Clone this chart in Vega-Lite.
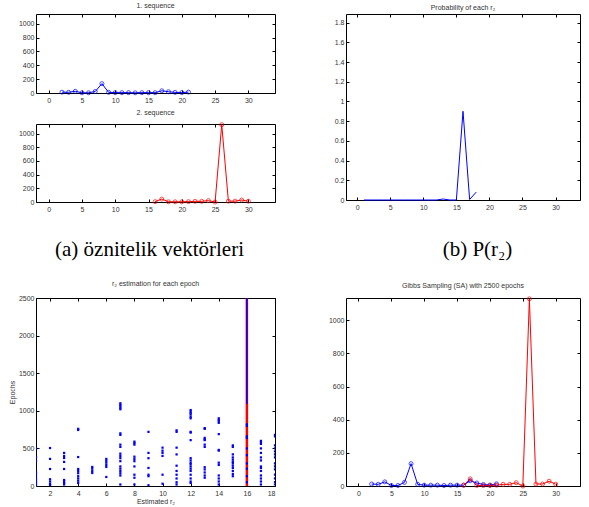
{
  "$schema": "https://vega.github.io/schema/vega-lite/v6.json",
  "background": "white",
  "padding": {"left": 7, "top": 1, "right": 0, "bottom": 0},
  "datasets": {
    "seq": [
      {"s": 1, "x": 2, "y": 12}, {"s": 1, "x": 3, "y": 10}, {"s": 1, "x": 4, "y": 25}, {"s": 1, "x": 5, "y": 3},
      {"s": 1, "x": 6, "y": 3}, {"s": 1, "x": 7, "y": 22}, {"s": 1, "x": 8, "y": 135}, {"s": 1, "x": 9, "y": 10},
      {"s": 1, "x": 10, "y": 5}, {"s": 1, "x": 11, "y": 5}, {"s": 1, "x": 12, "y": 5}, {"s": 1, "x": 13, "y": 3},
      {"s": 1, "x": 14, "y": 5}, {"s": 1, "x": 15, "y": 5}, {"s": 1, "x": 16, "y": 5}, {"s": 1, "x": 17, "y": 32},
      {"s": 1, "x": 18, "y": 18}, {"s": 1, "x": 19, "y": 9}, {"s": 1, "x": 20, "y": 6}, {"s": 1, "x": 21, "y": 13},
      {"s": 2, "x": 16, "y": 5}, {"s": 2, "x": 17, "y": 43}, {"s": 2, "x": 18, "y": 3}, {"s": 2, "x": 19, "y": 3},
      {"s": 2, "x": 20, "y": 3}, {"s": 2, "x": 21, "y": 5}, {"s": 2, "x": 22, "y": 10}, {"s": 2, "x": 23, "y": 10},
      {"s": 2, "x": 24, "y": 20}, {"s": 2, "x": 25, "y": 0}, {"s": 2, "x": 26, "y": 1130}, {"s": 2, "x": 27, "y": 12},
      {"s": 2, "x": 28, "y": 12}, {"s": 2, "x": 29, "y": 29}, {"s": 2, "x": 30, "y": 11}
    ],
    "prob": [
      {"x": 1, "p": 0}, {"x": 2, "p": 0}, {"x": 3, "p": 0}, {"x": 4, "p": 0}, {"x": 5, "p": 0}, {"x": 6, "p": 0},
      {"x": 7, "p": 0}, {"x": 8, "p": 0}, {"x": 9, "p": 0}, {"x": 10, "p": 0}, {"x": 11, "p": 0}, {"x": 12, "p": 0},
      {"x": 13, "p": 0.01}, {"x": 14, "p": 0}, {"x": 15, "p": 0}, {"x": 16, "p": 0.9}, {"x": 17, "p": 0.005}, {"x": 18, "p": 0.08}
    ],
    "rules": [
      {"r": 16, "lo": 0, "hi": 2500, "c": "red"},
      {"r": 16, "lo": 1090, "hi": 2500, "c": "blue"}
    ],
    "est": [
      {"r": 1, "e": 10}, {"r": 1, "e": 30}, {"r": 1, "e": 50}, {"r": 1, "e": 80}, {"r": 1, "e": 110}, {"r": 1, "e": 150}, {"r": 1, "e": 180}, {"r": 1, "e": 330}, {"r": 1, "e": 380}, {"r": 1, "e": 500},
      {"r": 2, "e": 10}, {"r": 2, "e": 30}, {"r": 2, "e": 60}, {"r": 2, "e": 90}, {"r": 2, "e": 226}, {"r": 2, "e": 360}, {"r": 2, "e": 505},
      {"r": 3, "e": 20}, {"r": 3, "e": 40}, {"r": 3, "e": 60}, {"r": 3, "e": 80}, {"r": 3, "e": 226}, {"r": 3, "e": 320}, {"r": 3, "e": 372}, {"r": 3, "e": 400}, {"r": 3, "e": 440},
      {"r": 4, "e": 40}, {"r": 4, "e": 70}, {"r": 4, "e": 100}, {"r": 4, "e": 130}, {"r": 4, "e": 170}, {"r": 4, "e": 200}, {"r": 4, "e": 226}, {"r": 4, "e": 385}, {"r": 4, "e": 745}, {"r": 4, "e": 760},
      {"r": 5, "e": 173}, {"r": 5, "e": 200}, {"r": 5, "e": 230}, {"r": 5, "e": 253},
      {"r": 6, "e": 120}, {"r": 6, "e": 253}, {"r": 6, "e": 280}, {"r": 6, "e": 310}, {"r": 6, "e": 335}, {"r": 6, "e": 360},
      {"r": 7, "e": 20}, {"r": 7, "e": 140}, {"r": 7, "e": 170}, {"r": 7, "e": 200}, {"r": 7, "e": 230}, {"r": 7, "e": 260}, {"r": 7, "e": 330}, {"r": 7, "e": 370}, {"r": 7, "e": 400}, {"r": 7, "e": 430}, {"r": 7, "e": 520}, {"r": 7, "e": 550}, {"r": 7, "e": 680}, {"r": 7, "e": 700}, {"r": 7, "e": 1020}, {"r": 7, "e": 1040}, {"r": 7, "e": 1060}, {"r": 7, "e": 1080}, {"r": 7, "e": 1100},
      {"r": 8, "e": 20}, {"r": 8, "e": 110}, {"r": 8, "e": 150}, {"r": 8, "e": 260}, {"r": 8, "e": 330}, {"r": 8, "e": 360}, {"r": 8, "e": 390}, {"r": 8, "e": 550}, {"r": 8, "e": 570}, {"r": 8, "e": 590},
      {"r": 9, "e": 10}, {"r": 9, "e": 130}, {"r": 9, "e": 150}, {"r": 9, "e": 240}, {"r": 9, "e": 370}, {"r": 9, "e": 440}, {"r": 9, "e": 720},
      {"r": 10, "e": 30}, {"r": 10, "e": 150}, {"r": 10, "e": 400}, {"r": 10, "e": 440}, {"r": 10, "e": 470}, {"r": 10, "e": 510},
      {"r": 11, "e": 20}, {"r": 11, "e": 50}, {"r": 11, "e": 100}, {"r": 11, "e": 150}, {"r": 11, "e": 200}, {"r": 11, "e": 270}, {"r": 11, "e": 420}, {"r": 11, "e": 510}, {"r": 11, "e": 720}, {"r": 11, "e": 740},
      {"r": 12, "e": 40}, {"r": 12, "e": 60}, {"r": 12, "e": 100}, {"r": 12, "e": 150}, {"r": 12, "e": 200}, {"r": 12, "e": 230}, {"r": 12, "e": 260}, {"r": 12, "e": 290}, {"r": 12, "e": 310}, {"r": 12, "e": 340}, {"r": 12, "e": 370}, {"r": 12, "e": 610}, {"r": 12, "e": 710}, {"r": 12, "e": 720}, {"r": 12, "e": 900}, {"r": 12, "e": 920}, {"r": 12, "e": 950}, {"r": 12, "e": 970}, {"r": 12, "e": 990}, {"r": 12, "e": 1010},
      {"r": 13, "e": 110}, {"r": 13, "e": 140}, {"r": 13, "e": 180}, {"r": 13, "e": 220}, {"r": 13, "e": 250}, {"r": 13, "e": 520}, {"r": 13, "e": 550}, {"r": 13, "e": 610}, {"r": 13, "e": 620}, {"r": 13, "e": 640}, {"r": 13, "e": 760}, {"r": 13, "e": 770},
      {"r": 14, "e": 20}, {"r": 14, "e": 60}, {"r": 14, "e": 100}, {"r": 14, "e": 140}, {"r": 14, "e": 280}, {"r": 14, "e": 310}, {"r": 14, "e": 470}, {"r": 14, "e": 480}, {"r": 14, "e": 690}, {"r": 14, "e": 840}, {"r": 14, "e": 860}, {"r": 14, "e": 880}, {"r": 14, "e": 900},
      {"r": 15, "e": 130}, {"r": 15, "e": 160}, {"r": 15, "e": 200}, {"r": 15, "e": 240}, {"r": 15, "e": 270}, {"r": 15, "e": 300}, {"r": 15, "e": 320}, {"r": 15, "e": 350}, {"r": 15, "e": 380}, {"r": 15, "e": 420}, {"r": 15, "e": 520}, {"r": 15, "e": 540},
      {"r": 16, "e": 50}, {"r": 16, "e": 130}, {"r": 16, "e": 230}, {"r": 16, "e": 300}, {"r": 16, "e": 410}, {"r": 16, "e": 500}, {"r": 16, "e": 640}, {"r": 16, "e": 660}, {"r": 16, "e": 800}, {"r": 16, "e": 820},
      {"r": 17, "e": 20}, {"r": 17, "e": 60}, {"r": 17, "e": 100}, {"r": 17, "e": 140}, {"r": 17, "e": 200}, {"r": 17, "e": 240}, {"r": 17, "e": 260}, {"r": 17, "e": 340}, {"r": 17, "e": 380}, {"r": 17, "e": 440}, {"r": 17, "e": 500}, {"r": 17, "e": 560}, {"r": 17, "e": 580}, {"r": 17, "e": 600},
      {"r": 18, "e": 20}, {"r": 18, "e": 50}, {"r": 18, "e": 100}, {"r": 18, "e": 150}, {"r": 18, "e": 220}, {"r": 18, "e": 260}, {"r": 18, "e": 300}, {"r": 18, "e": 380}, {"r": 18, "e": 420}, {"r": 18, "e": 460}, {"r": 18, "e": 500}, {"r": 18, "e": 540}, {"r": 18, "e": 660}, {"r": 18, "e": 680}
    ]
  },
  "spacing": 51,
  "hconcat": [
    {
      "bounds": "flush",
      "spacing": 31,
      "vconcat": [
        {
          "width": 239, "height": 79,
          "title": {"text": "1. sequence", "offset": 5},
          "data": {"name": "seq"},
          "transform": [{"filter": "datum.s == 1"}],
          "layer": [
            {"mark": {"type": "line", "color": "#0000ff", "strokeWidth": 1},
             "encoding": {
               "x": {"field": "x", "type": "quantitative", "scale": {"domain": [-1.9, 34], "nice": false, "zero": false}, "axis": {"values": [0, 5, 10, 15, 20, 25, 30], "title": null}},
               "y": {"field": "y", "type": "quantitative", "scale": {"domain": [0, 1140], "nice": false}, "axis": {"values": [0, 200, 400, 600, 800, 1000], "format": "d", "title": null}}}},
            {"mark": {"type": "point", "color": "#0000ff", "size": 16, "strokeWidth": 1},
             "encoding": {
               "x": {"field": "x", "type": "quantitative", "scale": {"domain": [-1.9, 34], "nice": false, "zero": false}, "axis": null},
               "y": {"field": "y", "type": "quantitative", "scale": {"domain": [0, 1140], "nice": false}, "axis": null}}},
            {"mark": {"type": "point", "opacity": 0},
             "encoding": {
               "x": {"field": "x", "type": "quantitative", "scale": {"domain": [-1.9, 34], "nice": false, "zero": false}, "axis": {"orient": "top", "labels": false, "values": [0, 5, 10, 15, 20, 25, 30], "title": null}},
               "y": {"field": "y", "type": "quantitative", "scale": {"domain": [0, 1140], "nice": false}, "axis": {"orient": "right", "labels": false, "values": [0, 200, 400, 600, 800, 1000], "title": null}}}}
          ],
          "resolve": {"axis": {"x": "independent", "y": "independent"}}
        },
        {
          "width": 239, "height": 78,
          "title": {"text": "2. sequence", "offset": 5},
          "data": {"name": "seq"},
          "transform": [{"filter": "datum.s == 2"}],
          "layer": [
            {"mark": {"type": "line", "color": "#ff0000", "strokeWidth": 1},
             "encoding": {
               "x": {"field": "x", "type": "quantitative", "scale": {"domain": [-1.9, 34], "nice": false, "zero": false}, "axis": {"values": [0, 5, 10, 15, 20, 25, 30], "title": "(a) öznitelik vektörleri", "titleFont": "Liberation Serif", "titleFontSize": 21, "titleColor": "black", "titleX": 113, "titleY": 53, "titleAlign": "center", "titleBaseline": "alphabetic"}},
               "y": {"field": "y", "type": "quantitative", "scale": {"domain": [0, 1140], "nice": false}, "axis": {"values": [0, 200, 400, 600, 800, 1000], "format": "d", "title": null}}}},
            {"mark": {"type": "point", "color": "#ff0000", "size": 16, "strokeWidth": 1},
             "encoding": {
               "x": {"field": "x", "type": "quantitative", "scale": {"domain": [-1.9, 34], "nice": false, "zero": false}, "axis": null},
               "y": {"field": "y", "type": "quantitative", "scale": {"domain": [0, 1140], "nice": false}, "axis": null}}},
            {"mark": {"type": "point", "opacity": 0},
             "encoding": {
               "x": {"field": "x", "type": "quantitative", "scale": {"domain": [-1.9, 34], "nice": false, "zero": false}, "axis": {"orient": "top", "labels": false, "values": [0, 5, 10, 15, 20, 25, 30], "title": null}},
               "y": {"field": "y", "type": "quantitative", "scale": {"domain": [0, 1140], "nice": false}, "axis": {"orient": "right", "labels": false, "values": [0, 200, 400, 600, 800, 1000], "title": null}}}}
          ],
          "resolve": {"axis": {"x": "independent", "y": "independent"}}
        },
        {
          "width": 239, "height": 34,
          "view": {"stroke": null},
          "data": {"values": []},
          "mark": "point"
        },
        {
          "width": 239, "height": 188,
          "title": {"text": "r₂ estimation for each epoch", "offset": 7},
          "layer": [
            {"data": {"name": "rules"},
             "transform": [{"filter": "datum.c == 'red'"}],
             "mark": {"type": "rule", "color": "#ff0000", "strokeWidth": 2.5},
             "encoding": {
               "x": {"field": "r", "type": "quantitative", "scale": {"domain": [1, 18], "nice": false, "zero": false}, "axis": {"values": [2, 4, 6, 8, 10, 12, 14, 16, 18], "title": "Estimated r₂", "titlePadding": 1}},
               "y": {"field": "lo", "type": "quantitative", "scale": {"domain": [0, 2500], "nice": false}, "axis": {"values": [0, 500, 1000, 1500, 2000, 2500], "format": "d", "title": "Epochs", "titleX": -21}},
               "y2": {"field": "hi"}}},
            {"data": {"name": "est"},
             "mark": {"type": "square", "color": "#0000ff", "filled": true, "opacity": 1, "size": 5, "clip": true},
             "encoding": {
               "x": {"field": "r", "type": "quantitative", "scale": {"domain": [1, 18], "nice": false, "zero": false}, "axis": null},
               "y": {"field": "e", "type": "quantitative", "scale": {"domain": [0, 2500], "nice": false}, "axis": null}}},
            {"data": {"name": "rules"},
             "transform": [{"filter": "datum.c == 'blue'"}],
             "mark": {"type": "rule", "color": "#0000ff", "strokeWidth": 1.5},
             "encoding": {
               "x": {"field": "r", "type": "quantitative", "scale": {"domain": [1, 18], "nice": false, "zero": false}, "axis": {"orient": "top", "labels": false, "values": [2, 4, 6, 8, 10, 12, 14, 16, 18], "title": null}},
               "y": {"field": "lo", "type": "quantitative", "scale": {"domain": [0, 2500], "nice": false}, "axis": {"orient": "right", "labels": false, "values": [0, 500, 1000, 1500, 2000, 2500], "title": null}},
               "y2": {"field": "hi"}}}
          ],
          "resolve": {"axis": {"x": "independent", "y": "independent"}}
        }
      ]
    },
    {
      "bounds": "flush",
      "spacing": 98,
      "vconcat": [
        {
          "width": 234, "height": 186,
          "title": {"text": "Probability of each r₂", "offset": 3},
          "data": {"name": "prob"},
          "layer": [
            {"mark": {"type": "line", "color": "#0000ff", "strokeWidth": 1},
             "encoding": {
               "x": {"field": "x", "type": "quantitative", "scale": {"domain": [-1.7, 33.7], "nice": false, "zero": false}, "axis": {"values": [0, 5, 10, 15, 20, 25, 30], "title": "(b) P(r₂)", "titleFont": "Liberation Serif", "titleFontSize": 21, "titleColor": "black", "titleX": 131, "titleY": 55, "titleAlign": "center", "titleBaseline": "alphabetic"}},
               "y": {"field": "p", "type": "quantitative", "scale": {"domain": [0, 1.887], "nice": false}, "axis": {"values": [0, 0.2, 0.4, 0.6, 0.8, 1, 1.2, 1.4, 1.6, 1.8], "format": "~g", "title": null}}}},
            {"mark": {"type": "point", "opacity": 0},
             "encoding": {
               "x": {"field": "x", "type": "quantitative", "scale": {"domain": [-1.7, 33.7], "nice": false, "zero": false}, "axis": {"orient": "top", "labels": false, "values": [0, 5, 10, 15, 20, 25, 30], "title": null}},
               "y": {"field": "p", "type": "quantitative", "scale": {"domain": [0, 1.887], "nice": false}, "axis": {"orient": "right", "labels": false, "values": [0, 0.2, 0.4, 0.6, 0.8, 1, 1.2, 1.4, 1.6, 1.8], "title": null}}}}
          ],
          "resolve": {"axis": {"x": "independent", "y": "independent"}}
        },
        {
          "width": 234, "height": 188,
          "title": {"text": "Gibbs Sampling (SA) with 2500 epochs", "offset": 6},
          "data": {"name": "seq"},
          "layer": [
            {"mark": {"type": "line", "strokeWidth": 1},
             "encoding": {
               "x": {"field": "x", "type": "quantitative", "scale": {"domain": [-1.9, 33.7], "nice": false, "zero": false}, "axis": {"values": [0, 5, 10, 15, 20, 25, 30], "title": null}},
               "y": {"field": "y", "type": "quantitative", "scale": {"domain": [0, 1135], "nice": false}, "axis": {"values": [0, 200, 400, 600, 800, 1000], "format": "d", "title": null}},
               "color": {"field": "s", "type": "nominal", "scale": {"domain": [2, 1], "range": ["#ff0000", "#0000ff"]}, "legend": null}}},
            {"mark": {"type": "point", "size": 16, "strokeWidth": 1},
             "encoding": {
               "x": {"field": "x", "type": "quantitative", "scale": {"domain": [-1.9, 33.7], "nice": false, "zero": false}, "axis": null},
               "y": {"field": "y", "type": "quantitative", "scale": {"domain": [0, 1135], "nice": false}, "axis": null},
               "color": {"field": "s", "type": "nominal", "scale": {"domain": [2, 1], "range": ["#ff0000", "#0000ff"]}, "legend": null}}},
            {"mark": {"type": "point", "opacity": 0},
             "encoding": {
               "x": {"field": "x", "type": "quantitative", "scale": {"domain": [-1.9, 33.7], "nice": false, "zero": false}, "axis": {"orient": "top", "labels": false, "values": [0, 5, 10, 15, 20, 25, 30], "title": null}},
               "y": {"field": "y", "type": "quantitative", "scale": {"domain": [0, 1135], "nice": false}, "axis": {"orient": "right", "labels": false, "values": [0, 200, 400, 600, 800, 1000], "title": null}}}}
          ],
          "resolve": {"axis": {"x": "independent", "y": "independent"}}
        }
      ]
    }
  ],
  "config": {
    "view": {"stroke": "black", "strokeWidth": 1},
    "axis": {"domain": false, "grid": false, "labelFont": "Liberation Sans", "labelFontSize": 7, "labelColor": "#333333", "tickColor": "black", "tickSize": -3, "labelPadding": 6, "titleFont": "Liberation Sans", "titleFontSize": 7, "titleFontWeight": "normal", "titleColor": "#333333"},
    "axisY": {"labelPadding": 5},
    "title": {"font": "Liberation Sans", "fontSize": 7, "fontWeight": "normal", "color": "#333333"}
  }
}
